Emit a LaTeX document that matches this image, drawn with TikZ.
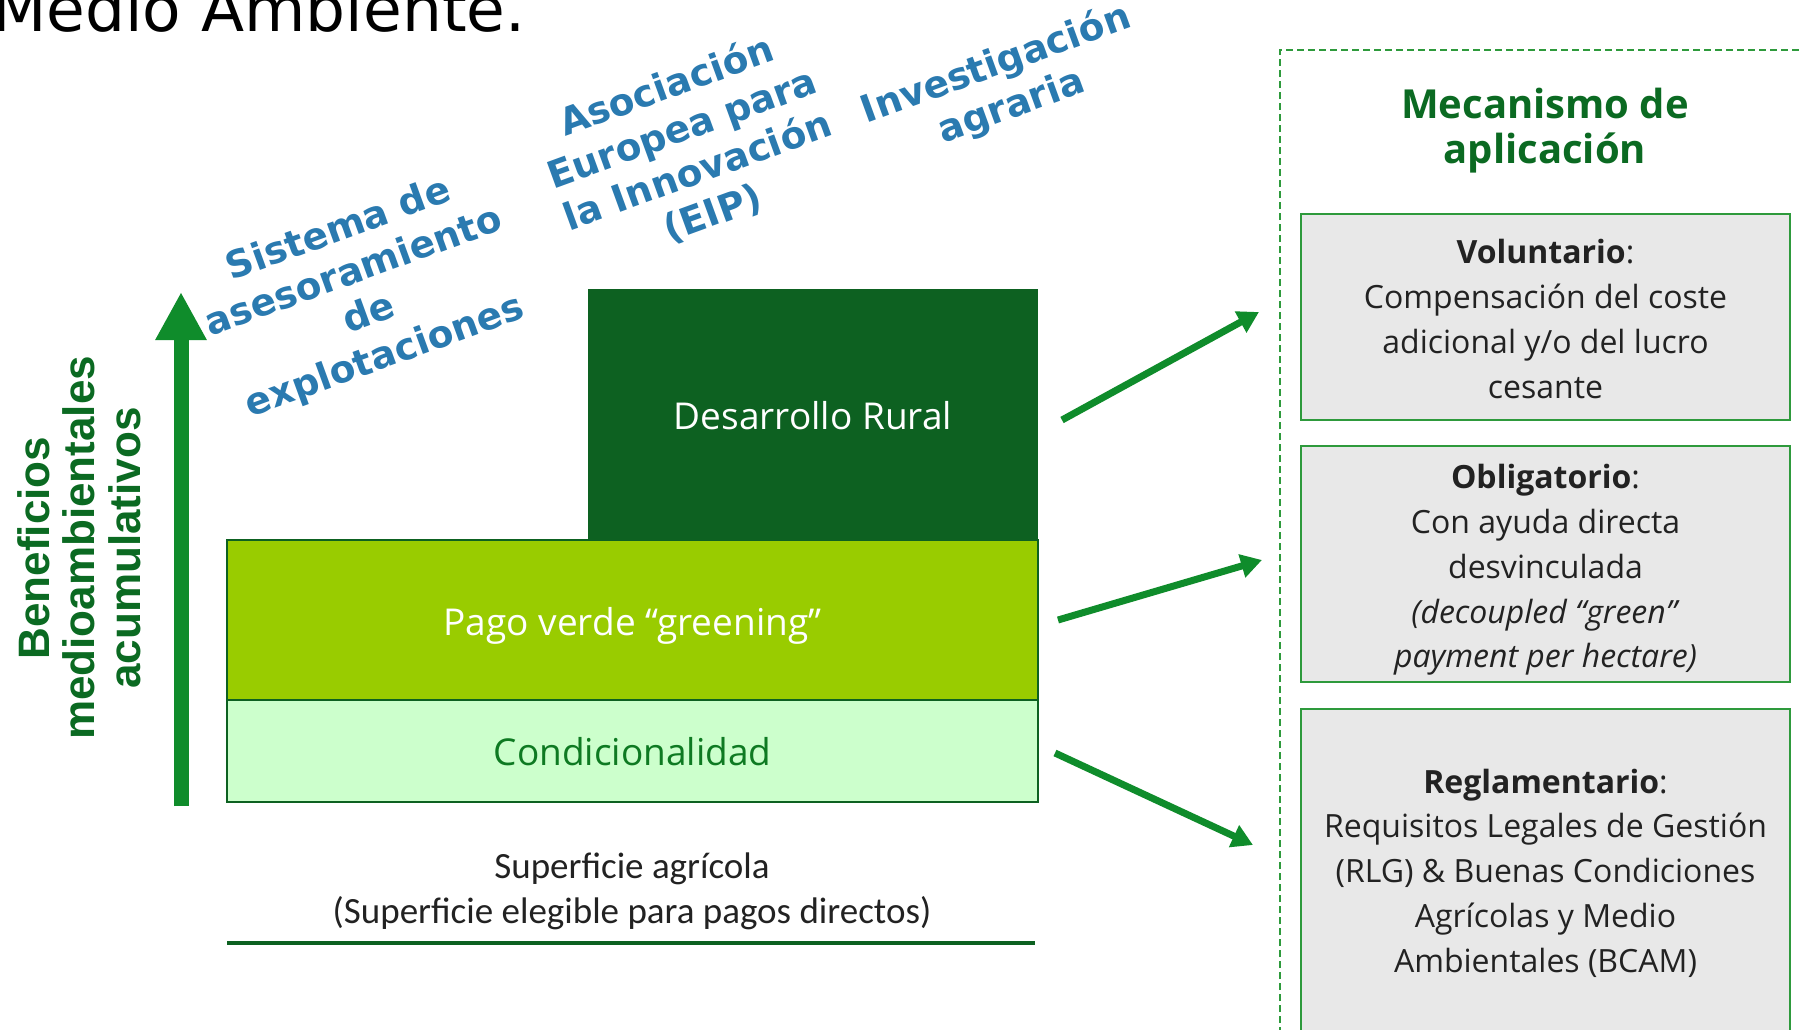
\documentclass[tikz,border=0pt]{standalone}
\usepackage{fontspec}
\setmainfont{Open Sans}
\newfontfamily\carl{Carlito}
\newfontfamily\dvs{DejaVu Sans}
\newfontfamily\libs{Liberation Sans}
\usetikzlibrary{arrows.meta}
\definecolor{dkgreen}{HTML}{0D6121}
\definecolor{limeg}{HTML}{99CC00}
\definecolor{paleg}{HTML}{CCFFCC}
\definecolor{condtxt}{HTML}{0E7A22}
\definecolor{arrowg}{HTML}{0F8C2B}
\definecolor{boxline}{HTML}{2E9A3C}
\definecolor{boxfill}{HTML}{E8E8E8}
\definecolor{txtgray}{HTML}{222222}
\definecolor{blueT}{HTML}{2A7AB0}
\definecolor{titleg}{HTML}{0B6A22}
\tikzset{
  layer/.style={draw=dkgreen, line width=2.5pt, inner sep=0pt},
  layertext/.style={inner sep=0pt, font=\fontsize{37}{45}\selectfont},
  mechbox/.style={draw=boxline, fill=boxfill, line width=2pt, inner sep=0pt, minimum width=489pt},
  mechtext/.style={inner sep=0pt, align=center, text=txtgray, font=\fontsize{32}{44.7}\selectfont},
  bluetxt/.style={text=blueT, rotate=20, align=center, inner sep=0pt,
    font=\dvs\bfseries\fontsize{37.5}{45}\selectfont},
  greenarrow/.style={draw=arrowg, line width=7pt, -{Triangle[length=21pt,width=23pt]}},
}
\begin{document}
\begin{tikzpicture}[x=1pt,y=-1pt]
\path[use as bounding box, clip] (0,0) rectangle (1801,1029);
\fill[white] (0,0) rectangle (1801,1029);

% title fragment
\node[anchor=base west, inner sep=0pt, text=black, font=\dvs\fontsize{63}{70}\selectfont] (ttl) at (-8,31) {Medio Ambiente.};

% stacked layers
\node[fill=dkgreen, inner sep=0pt, minimum width=450pt, minimum height=251pt] (dr) at (813,414.5) {};
\node[layertext, text=white] (drl) at ([yshift=-1pt]dr.center) {Desarrollo Rural};
\node[layer, fill=limeg, minimum width=811pt, minimum height=160pt] (pv) at (632.5,620) {};
\node[layertext, text=white] (pvl) at ([yshift=-6pt]pv.center) {Pago verde “greening”};
\node[layer, fill=paleg, minimum width=811pt, minimum height=102pt] (cd) at (632.5,751) {};
\node[layertext, text=condtxt] (cdl) at ([yshift=-1pt]cd.center) {Condicionalidad};

% base
\node[align=center, inner sep=0pt, text=txtgray, font=\carl\fontsize{37}{45}\selectfont] (sup) at (632,891.5) {Superficie agrícola\\(Superficie elegible para pagos directos)};
\coordinate (bl) at (227,943);
\coordinate (br) at (1035,943);
\draw[dkgreen, line width=4pt] (bl) -- (br);

% vertical axis arrow
\coordinate (ab) at (181,806);
\coordinate (at) at (181,292);
\draw[arrowg, line width=15pt, -{Triangle[length=48pt,width=48pt]}] (ab) -- (at);
\node[rotate=90, align=center, inner sep=0pt, text=titleg, font=\libs\bfseries\fontsize{44}{45.5}\selectfont] (ben) at (79,548) {Beneficios\\medioambientales\\acumulativos};

% blue rotated labels
\node[bluetxt] (sa) at (362,294) {Sistema de\\asesoramiento\\de\\explotaciones};
\node[bluetxt] (eip) at (690,150) {Asociación\\Europea para\\la Innovación\\(EIP)};
\node[bluetxt] (ia) at (1004,86) {Investigación\\agraria};

% right panel
\coordinate (dl) at (1280,1045);
\coordinate (dt) at (1280,50);
\coordinate (dr2) at (1815,50);
\draw[boxline, line width=2pt, dash pattern=on 7pt off 4pt] (dl) -- (dt) -- (dr2);
\node[align=center, inner sep=0pt, text=titleg, font=\bfseries\fontsize{40}{45}\selectfont] (mec) at (1545,131) {Mecanismo de\\aplicación};

\node[mechbox, minimum height=206pt] (vol) at (1545.5,317) {};
\node[mechtext] (voll) at ([yshift=-2pt]vol.center) {\textbf{Voluntario}:\\Compensación del coste\\adicional y/o del lucro\\cesante};
\node[mechbox, minimum height=236pt] (obl) at (1545.5,564) {};
\node[mechtext] (obll) at ([yshift=-6pt]obl.center) {\textbf{Obligatorio}:\\Con ayuda directa\\desvinculada\\\textit{(decoupled “green”}\\\textit{payment per hectare)}};
\node[mechbox, minimum height=324pt] (reg) at (1545.5,871) {};
\node[mechtext] (regl) at ([yshift=-2pt]reg.center) {\textbf{Reglamentario}:\\Requisitos Legales de Gestión\\(RLG) \& Buenas Condiciones\\Agrícolas y Medio\\Ambientales (BCAM)};

% connectors
\coordinate (a1s) at (1062,420); \coordinate (a1e) at (1259,312);
\coordinate (a2s) at (1058,620); \coordinate (a2e) at (1262,560);
\coordinate (a3s) at (1055,753); \coordinate (a3e) at (1253,845);
\draw[greenarrow] (a1s) -- (a1e);
\draw[greenarrow] (a2s) -- (a2e);
\draw[greenarrow] (a3s) -- (a3e);
\end{tikzpicture}
\end{document}
